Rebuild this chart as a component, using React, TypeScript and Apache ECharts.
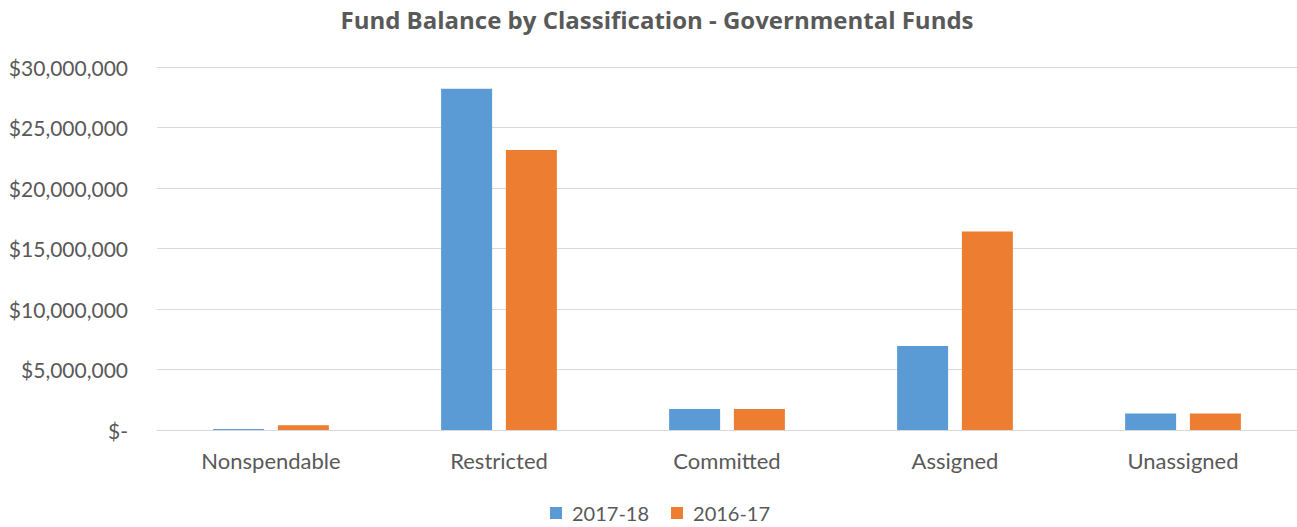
import React, { useEffect, useRef } from "react";
import * as echarts from "echarts";

const categories = ["Nonspendable", "Restricted", "Committed", "Assigned", "Unassigned"];
const series2017_18 = [80000, 28200000, 1740000, 6950000, 1360000];
const series2016_17 = [390000, 23150000, 1740000, 16400000, 1360000];
const seriesNames = ["2017-18", "2016-17"];
const yMin = 0;
const yMax = 30000000;
const yInterval = 5000000;

const fmt = (v: number) => {
  if (v === 0) return "$-";
  return "$" + v.toLocaleString("en-US");
};

export default function App() {
  const ref = useRef<HTMLDivElement>(null);
  useEffect(() => {
    if (!ref.current) return;
    const chart = echarts.init(ref.current, undefined, { renderer: "svg" });
    const font = "Lato, 'Noto Sans', sans-serif";
    chart.setOption({
      animation: false,
      textStyle: { fontFamily: font },
      title: {
        text: "Fund Balance by Classification - Governmental Funds",
        left: 652,
        textAlign: "center",
        top: 2,
        textStyle: { fontFamily: "'Open Sans', Lato, sans-serif", fontSize: 24, fontWeight: "bold", color: "#595959" },
      },
      legend: {
        top: 503,
        left: 550,
        padding: 0,
        itemWidth: 12,
        itemHeight: 12,
        itemGap: 22,
        icon: "rect",
        textStyle: { fontFamily: font, fontSize: 20, color: "#595959", padding: [0, 0, 0, 5] },
        data: seriesNames,
      },
      grid: { left: 157, right: 0, top: 67, bottom: 97, containLabel: false },
      xAxis: {
        type: "category",
        data: categories,
        axisLine: { lineStyle: { color: "#d9d9d9", width: 1 } },
        axisTick: { show: false },
        axisLabel: { fontFamily: font, fontSize: 22, color: "#595959", margin: 19 },
      },
      yAxis: {
        type: "value",
        min: yMin,
        max: yMax,
        interval: yInterval,
        axisLine: { show: false },
        axisTick: { show: false },
        splitLine: { lineStyle: { color: "#d9d9d9", width: 1 } },
        axisLabel: {
          fontFamily: font,
          fontSize: 21,
          color: "#595959",
          margin: 29,
          formatter: fmt,
        },
      },
      series: [
        {
          name: seriesNames[0],
          type: "bar",
          data: series2017_18,
          barWidth: 51,
          barGap: "27%",
          itemStyle: { color: "#5B9BD5" },
        },
        {
          name: seriesNames[1],
          type: "bar",
          data: series2016_17,
          barWidth: 51,
          barGap: "27%",
          itemStyle: { color: "#ED7D31" },
        },
      ],
    });
    return () => chart.dispose();
  }, []);
  return (
    <div
      ref={ref}
      style={{ position: "fixed", left: 0, top: 0, width: 1297, height: 527, background: "#fff" }}
    />
  );
}
